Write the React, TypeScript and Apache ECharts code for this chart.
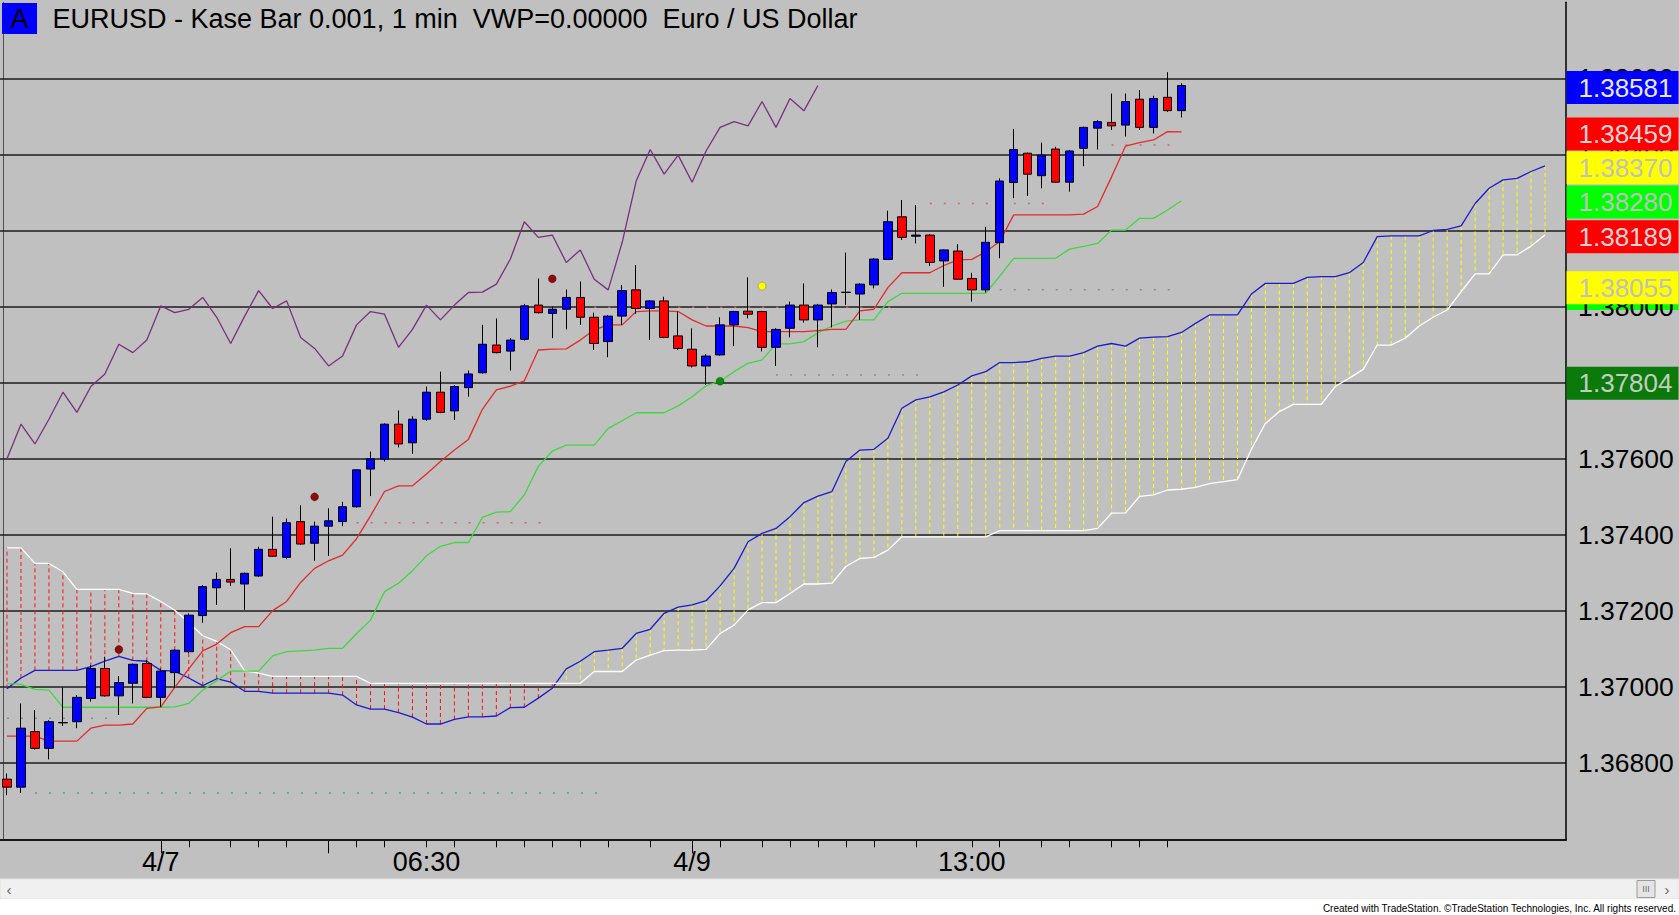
import React, { useEffect, useRef } from "react";
import * as echarts from "echarts";

// ---------- DATA ----------
const categoryCount = 112;
const openP = [1.36758,1.36737,1.36883,1.36839,1.36906,1.36909,1.36970,1.37049,1.36977,1.37010,1.37062,1.36973,1.37038,1.37093,1.37188,1.37261,1.37283,1.37271,1.37292,1.37362,1.37341,1.37435,1.37378,1.37423,1.37435,1.37474,1.37573,1.37599,1.37691,1.37642,1.37704,1.37775,1.37726,1.37787,1.37826,1.37899,1.37883,1.37914,1.38004,1.37982,1.37993,1.38024,1.37972,1.37908,1.37975,1.38044,1.37995,1.38015,1.37923,1.37888,1.37844,1.37873,1.37952,1.37988,1.37987,1.37893,1.37943,1.38004,1.37965,1.38007,1.38037,1.38033,1.38057,1.38124,1.38236,1.38185,1.38188,1.38120,1.38146,1.38074,1.38044,1.38168,1.38326,1.38403,1.38344,1.38414,1.38327,1.38416,1.38469,1.38484,1.38477,1.38545,1.38471,1.38550,1.38515];
const highP = [1.36773,1.36957,1.36940,1.36913,1.36999,1.36979,1.37058,1.37080,1.37029,1.37062,1.37071,1.37049,1.37099,1.37194,1.37268,1.37301,1.37365,1.37301,1.37369,1.37448,1.37443,1.37478,1.37435,1.37470,1.37487,1.37572,1.37619,1.37693,1.37727,1.37712,1.37790,1.37829,1.37794,1.37832,1.37952,1.37969,1.37917,1.38007,1.38074,1.38000,1.38045,1.38066,1.37984,1.37978,1.38057,1.38109,1.38017,1.38026,1.37987,1.37943,1.37875,1.37972,1.37989,1.38077,1.37989,1.37943,1.38013,1.38061,1.38007,1.38045,1.38142,1.38061,1.38127,1.38252,1.38280,1.38267,1.38191,1.38150,1.38164,1.38089,1.38210,1.38337,1.38467,1.38405,1.38431,1.38420,1.38412,1.38473,1.38490,1.38560,1.38560,1.38569,1.38554,1.38616,1.38587];
const lowP = [1.36716,1.36722,1.36836,1.36810,1.36898,1.36892,1.36962,1.36975,1.36927,1.36957,1.36971,1.36948,1.36998,1.37089,1.37169,1.37216,1.37266,1.37203,1.37290,1.37342,1.37336,1.37374,1.37332,1.37345,1.37423,1.37472,1.37502,1.37593,1.37630,1.37613,1.37700,1.37720,1.37702,1.37763,1.37824,1.37877,1.37832,1.37911,1.37982,1.37917,1.37940,1.37952,1.37886,1.37867,1.37952,1.37981,1.37912,1.37917,1.37886,1.37840,1.37794,1.37871,1.37896,1.37969,1.37882,1.37844,1.37919,1.37958,1.37893,1.37945,1.38004,1.37965,1.38048,1.38123,1.38175,1.38166,1.38107,1.38052,1.38070,1.38013,1.38037,1.38127,1.38285,1.38291,1.38311,1.38325,1.38302,1.38369,1.38413,1.38464,1.38447,1.38464,1.38455,1.38512,1.38497];
const closeP = [1.36737,1.36892,1.36839,1.36909,1.36907,1.36973,1.37049,1.36977,1.37012,1.37060,1.36973,1.37042,1.37097,1.37189,1.37264,1.37283,1.37276,1.37299,1.37362,1.37344,1.37432,1.37376,1.37423,1.37437,1.37474,1.37571,1.37600,1.37691,1.37639,1.37704,1.37775,1.37722,1.37790,1.37823,1.37901,1.37879,1.37912,1.38002,1.37984,1.37993,1.38024,1.37972,1.37903,1.37975,1.38042,1.37995,1.38015,1.37919,1.37890,1.37844,1.37870,1.37952,1.37987,1.37980,1.37893,1.37940,1.38004,1.37965,1.38004,1.38037,1.38038,1.38059,1.38125,1.38223,1.38182,1.38188,1.38116,1.38149,1.38072,1.38044,1.38169,1.38330,1.38413,1.38348,1.38398,1.38327,1.38409,1.38471,1.38486,1.38475,1.38539,1.38471,1.38547,1.38515,1.38581];

const tenkan = [1.36871,1.36871,1.36871,1.36858,1.36858,1.36858,1.36892,1.36900,1.36900,1.36903,1.36944,1.36948,1.36999,1.37048,1.37095,1.37113,1.37143,1.37159,1.37159,1.37201,1.37225,1.37275,1.37312,1.37332,1.37347,1.37390,1.37450,1.37514,1.37529,1.37529,1.37560,1.37593,1.37623,1.37651,1.37730,1.37781,1.37791,1.37805,1.37886,1.37888,1.37889,1.37912,1.37939,1.37952,1.37952,1.37987,1.37989,1.37989,1.37987,1.37965,1.37949,1.37949,1.37949,1.37945,1.37934,1.37934,1.37934,1.37934,1.37937,1.37940,1.37940,1.37989,1.37993,1.38050,1.38089,1.38089,1.38089,1.38108,1.38123,1.38124,1.38144,1.38171,1.38241,1.38241,1.38241,1.38241,1.38241,1.38243,1.38263,1.38341,1.38422,1.38431,1.38438,1.38460,1.38459];
const kijun = [1.37010,1.37007,1.36994,1.36992,1.36947,1.36947,1.36947,1.36947,1.36947,1.36947,1.36947,1.36947,1.36948,1.36957,1.36992,1.37017,1.37042,1.37042,1.37042,1.37082,1.37093,1.37095,1.37097,1.37102,1.37102,1.37141,1.37176,1.37251,1.37273,1.37306,1.37345,1.37370,1.37380,1.37380,1.37446,1.37460,1.37461,1.37505,1.37580,1.37620,1.37636,1.37636,1.37636,1.37680,1.37700,1.37721,1.37721,1.37721,1.37739,1.37763,1.37792,1.37804,1.37829,1.37851,1.37860,1.37902,1.37902,1.37908,1.37931,1.37949,1.37962,1.37965,1.37965,1.38013,1.38035,1.38035,1.38035,1.38035,1.38035,1.38035,1.38035,1.38080,1.38127,1.38127,1.38127,1.38127,1.38151,1.38158,1.38166,1.38201,1.38201,1.38232,1.38232,1.38254,1.38278];
const senkouA = [1.36996,1.37024,1.37044,1.37044,1.37044,1.37044,1.37054,1.37068,1.37081,1.37070,1.37068,1.37044,1.37042,1.37024,1.37004,1.37022,1.37013,1.36989,1.36989,1.36984,1.36984,1.36984,1.36984,1.36984,1.36979,1.36953,1.36942,1.36942,1.36933,1.36921,1.36903,1.36903,1.36915,1.36922,1.36922,1.36924,1.36946,1.36947,1.36971,1.36997,1.37048,1.37068,1.37093,1.37097,1.37102,1.37141,1.37152,1.37194,1.37210,1.37216,1.37227,1.37266,1.37312,1.37382,1.37404,1.37417,1.37448,1.37485,1.37502,1.37514,1.37593,1.37623,1.37625,1.37654,1.37733,1.37755,1.37763,1.37776,1.37794,1.37818,1.37829,1.37853,1.37853,1.37855,1.37864,1.37870,1.37870,1.37879,1.37896,1.37903,1.37896,1.37917,1.37920,1.37921,1.37932,1.37956,1.37978,1.37978,1.37978,1.38033,1.38061,1.38061,1.38061,1.38077,1.38079,1.38079,1.38089,1.38116,1.38184,1.38186,1.38186,1.38186,1.38200,1.38203,1.38212,1.38271,1.38311,1.38333,1.38337,1.38355,1.38370];
const senkouB = [1.37366,1.37366,1.37325,1.37325,1.37303,1.37257,1.37257,1.37257,1.37257,1.37246,1.37245,1.37225,1.37202,1.37170,1.37135,1.37120,1.37098,1.37043,1.37037,1.37028,1.37028,1.37028,1.37028,1.37028,1.37028,1.37028,1.37010,1.37010,1.37010,1.37010,1.37010,1.37010,1.37010,1.37010,1.37010,1.37010,1.37010,1.37010,1.37010,1.37010,1.37010,1.37010,1.37041,1.37041,1.37041,1.37071,1.37084,1.37096,1.37097,1.37097,1.37099,1.37141,1.37163,1.37203,1.37222,1.37222,1.37246,1.37271,1.37271,1.37273,1.37317,1.37338,1.37341,1.37360,1.37395,1.37395,1.37395,1.37395,1.37395,1.37395,1.37395,1.37411,1.37411,1.37411,1.37411,1.37411,1.37411,1.37411,1.37417,1.37457,1.37458,1.37501,1.37505,1.37518,1.37520,1.37525,1.37535,1.37540,1.37545,1.37625,1.37693,1.37724,1.37743,1.37743,1.37743,1.37790,1.37812,1.37835,1.37899,1.37899,1.37917,1.37949,1.37972,1.37991,1.38039,1.38086,1.38086,1.38136,1.38136,1.38159,1.38188];
const chikouShift = 26;

const tickIdx = [11,13,16,18,20,23,25,27,30,32,35,37,39,41,43,46,49,51,54,56,58,60,62,65,69,71,74,76,79,81,83];
const longTickIdx = [11,23,49];
const xLabelIdx = [11,30,49,69];
const xLabelText = ["4/7","06:30","4/9","13:00"];

const markerIdx = [8,22,39,51,54];
const markerPrice = [1.37099,1.37500,1.38073,1.37804,1.38054];
const markerColor = ["#8B0A0A","#8B0A0A","#8B0A0A","#0B8A0B","#FFFF00"];

const levelFrom = [0,2,25,41,55,66,69,79];
const levelTo = [8,43,39,64,66,75,84,84];
const levelPrice = [1.36918,1.36722,1.37432,1.37998,1.37820,1.38271,1.38044,1.38425];
const levelColor = ["#8c8c8c","#5a9c9c","#c86a6a","#c86a6a","#8c8c8c","#c86a6a","#8c8c8c","#c86a6a"];

const lastValues = [1.38581,1.38459,1.38370,1.38280,1.38189,1.38055,1.37804];
const lastBg = ["#0000FF","#FF0000","#FFFF00","#00FF00","#FF0000","#FFFF00","#0A7A0A"];
const lastFg = ["#E8E8F8","#EAD6D6","#C0C0C0","#C0C0C0","#EAD6D6","#C0C0C0","#C4CCC4"];
const hiddenLevel = 1.3804;

const titleParts = ["EURUSD - Kase Bar 0.001, 1 min", "VWP=0.00000", "Euro / US Dollar"];
const footerText = "Created with TradeStation. \u00A9TradeStation Technologies, Inc. All rights reserved.";

const FONT = '"Liberation Sans", Arial, sans-serif';

export default function App() {
  const ref = useRef<HTMLDivElement>(null);

  useEffect(() => {
    document.body.style.margin = "0";
    if (!ref.current) return;
    const chart = echarts.init(ref.current, null, { renderer: "svg" });

    const cats = Array.from({ length: categoryCount }, (_, i) => String(i));
    const lastCat = categoryCount - 1;
    const candles = openP.map((o, i) => [o, closeP[i], lowP[i], highP[i]]);
    const chikou = cats.map((_, i) => (i + chikouShift < closeP.length ? closeP[i + chikouShift] : null));
    const cloud = senkouA.map((a, i) => [i, a, senkouB[i]]);
    const levels = levelFrom.map((f, i) => [f, levelTo[i], levelPrice[i]]);
    const markers = markerIdx.map((x, i) => ({ value: [x, markerPrice[i]], itemStyle: { color: markerColor[i] } }));
    const tickSet = new Set(tickIdx);
    const longSet = new Set(longTickIdx);
    const labelMap = new Map(xLabelIdx.map((x, i) => [x, xLabelText[i]]));

    const boxLabel = {
      show: true,
      position: "right",
      distance: 7,
      offset: [0, 2],
      fontSize: 26,
      fontFamily: FONT,
      lineHeight: 27,
      width: 96,
      height: 27,
      padding: [3, 4, 3, 12],
      align: "left",
      verticalAlign: "middle",
      opacity: 1,
    };

    const lastItems = lastValues.map((v, i) => ({
      value: [lastCat, v],
      label: { ...boxLabel, formatter: v.toFixed(5), backgroundColor: lastBg[i], color: lastFg[i] },
    }));
    const stripItems = [
      {
        value: [lastCat, hiddenLevel],
        label: { ...boxLabel, formatter: " ", backgroundColor: "#00FF00", color: "#00FF00" },
      },
    ];

    const option: any = {
      animation: false,
      backgroundColor: "#C0C0C0",
      grid: { left: -2, right: 113, top: 2.2, bottom: 75.7, containLabel: false },
      xAxis: [
        {
          type: "category",
          data: cats,
          boundaryGap: true,
          position: "bottom",
          axisLine: { show: true, onZero: false, lineStyle: { color: "#000", width: 2 } },
          axisTick: {
            show: true,
            alignWithLabel: true,
            interval: (i: number) => tickSet.has(i),
            length: 8,
            lineStyle: { color: "#000", width: 1 },
          },
          axisLabel: {
            show: true,
            interval: (i: number) => labelMap.has(i),
            formatter: (_v: string, i: number) => labelMap.get(i) || "",
            fontSize: 27,
            fontFamily: FONT,
            color: "#000",
            margin: 9,
          },
          splitLine: { show: false },
        },
        {
          type: "category",
          data: cats,
          boundaryGap: true,
          position: "bottom",
          axisLine: { show: false },
          axisTick: {
            show: true,
            alignWithLabel: true,
            interval: (i: number) => longSet.has(i),
            length: 14,
            lineStyle: { color: "#000", width: 1 },
          },
          axisLabel: { show: false },
          splitLine: { show: false },
        },
      ],
      yAxis: [
        {
          type: "value",
          position: "right",
          min: 1.366,
          max: 1.388,
          interval: 0.002,
          z: 1,
          axisLine: { show: true, lineStyle: { color: "#000", width: 1.5 } },
          axisTick: { show: false },
          axisLabel: {
            formatter: (v: number) => v.toFixed(5),
            fontSize: 26.5,
            fontFamily: FONT,
            color: "#000",
            margin: 12,
            showMinLabel: false,
            showMaxLabel: false,
          },
          splitLine: { show: true, showMaxLine: false, lineStyle: { color: "#1e1e1e", width: 1.5 } },
        },
        {
          type: "value",
          position: "left",
          offset: -3,
          min: 1.366,
          max: 1.388,
          axisLine: { show: true, lineStyle: { color: "#505050", width: 1 } },
          axisTick: { show: false },
          axisLabel: { show: false },
          splitLine: { show: false },
        },
      ],
      series: [
        {
          name: "strip",
          type: "scatter",
          data: stripItems,
          z: 0,
          symbol: "rect",
          symbolSize: 1,
          clip: false,
          silent: true,
          itemStyle: { color: "rgba(0,0,0,0)", opacity: 1 },
        },
        {
          name: "cloud",
          type: "custom",
          data: cloud,
          encode: { x: 0, y: [1, 2] },
          z: 2,
          renderItem: (_p: any, api: any) => {
            const i = api.value(0);
            const a = api.value(1);
            const b = api.value(2);
            const p1 = api.coord([i, a]);
            const p2 = api.coord([i, b]);
            return {
              type: "line",
              shape: { x1: p1[0], y1: p1[1], x2: p2[0], y2: p2[1] },
              style: { stroke: a >= b ? "#FFFF00" : "#FF1010", lineWidth: 1, lineDash: [4, 3] },
            };
          },
        },
        {
          name: "levels",
          type: "custom",
          data: levels,
          encode: { x: [0, 1], y: 2 },
          z: 2,
          renderItem: (p: any, api: any) => {
            const a = api.coord([api.value(0), api.value(2)]);
            const b = api.coord([api.value(1), api.value(2)]);
            return {
              type: "line",
              shape: { x1: a[0], y1: a[1], x2: b[0], y2: b[1] },
              style: { stroke: levelColor[p.dataIndex], lineWidth: 1.5, lineDash: [2, 12] },
            };
          },
        },
        { name: "SenkouA", type: "line", data: senkouA, symbol: "none", z: 3, lineStyle: { color: "#1A1AD0", width: 1.3 } },
        { name: "SenkouB", type: "line", data: senkouB, symbol: "none", z: 3, lineStyle: { color: "#FFFFFF", width: 1.3 } },
        { name: "Chikou", type: "line", data: chikou, symbol: "none", z: 3, lineStyle: { color: "#7A2F7F", width: 1.3 } },
        { name: "Kijun", type: "line", data: kijun, symbol: "none", z: 3, lineStyle: { color: "#3FD83F", width: 1.3 } },
        { name: "Tenkan", type: "line", data: tenkan, symbol: "none", z: 3, lineStyle: { color: "#E42A2A", width: 1.3 } },
        {
          name: "EURUSD",
          type: "candlestick",
          data: candles,
          barWidth: 9,
          z: 4,
          itemStyle: {
            color: "#0000FF",
            color0: "#FF0000",
            borderColor: "#000000",
            borderColor0: "#000000",
            borderColorDoji: "#000000",
            borderWidth: 1,
          },
        },
        {
          name: "markers",
          type: "scatter",
          data: markers,
          symbolSize: 8,
          z: 5,
          itemStyle: { borderColor: "rgba(0,0,0,0.35)", borderWidth: 0.6, opacity: 1 },
        },
        {
          name: "lastLabels",
          type: "scatter",
          data: lastItems,
          z: 6,
          symbol: "rect",
          symbolSize: 1,
          clip: false,
          silent: true,
          itemStyle: { color: "rgba(0,0,0,0)", opacity: 1 },
        },
      ],
      graphic: [
        { type: "rect", x: 2, y: 3, shape: { x: 0, y: 0, width: 35, height: 31 }, style: { fill: "#0000FF" }, z: 100 },
        {
          type: "text",
          x: 19.5,
          y: 19,
          z: 101,
          style: { text: "A", fill: "#000", fontSize: 27, fontFamily: FONT, align: "center", verticalAlign: "middle" },
        },
        {
          type: "text",
          x: 52.5,
          y: 19,
          z: 101,
          style: {
            text: "{b|" + titleParts[0] + "}  {k|" + titleParts[1] + "}  {b|" + titleParts[2] + "}",
            fontSize: 27,
            fontFamily: FONT,
            fill: "#000",
            verticalAlign: "middle",
            rich: {
              b: { fontSize: 27, fontFamily: FONT, color: "#0000FF" },
              k: { fontSize: 27, fontFamily: FONT, color: "#000000" },
            },
          },
        },
        { type: "rect", x: 0, y: 879, shape: { x: 0, y: 0, width: 1679, height: 20 }, style: { fill: "#F0F0F0", stroke: "#E2E2E2", lineWidth: 1 }, z: 100 },
        { type: "text", x: 9, y: 889, z: 101, style: { text: "\u2039", fill: "#606060", fontSize: 15, fontFamily: FONT, align: "center", verticalAlign: "middle" } },
        { type: "text", x: 1667, y: 889, z: 101, style: { text: "\u203A", fill: "#606060", fontSize: 15, fontFamily: FONT, align: "center", verticalAlign: "middle" } },
        { type: "rect", x: 1637, y: 880.5, shape: { x: 0, y: 0, width: 18, height: 17 }, style: { fill: "#E4E4E4", stroke: "#9A9A9A", lineWidth: 1 }, z: 101 },
        { type: "text", x: 1646, y: 889, z: 102, style: { text: "III", fill: "#707070", fontSize: 9, fontFamily: FONT, align: "center", verticalAlign: "middle" } },
        { type: "rect", x: 0, y: 899, shape: { x: 0, y: 0, width: 1679, height: 16 }, style: { fill: "#FFFFFF" }, z: 100 },
        { type: "text", x: 1676, y: 908, z: 101, style: { text: footerText, fill: "#000", fontSize: 10, fontFamily: FONT, align: "right", verticalAlign: "middle" } },
      ],
    };

    chart.setOption(option);
    return () => chart.dispose();
  }, []);

  return <div ref={ref} style={{ width: 1679, height: 915 }} />;
}
